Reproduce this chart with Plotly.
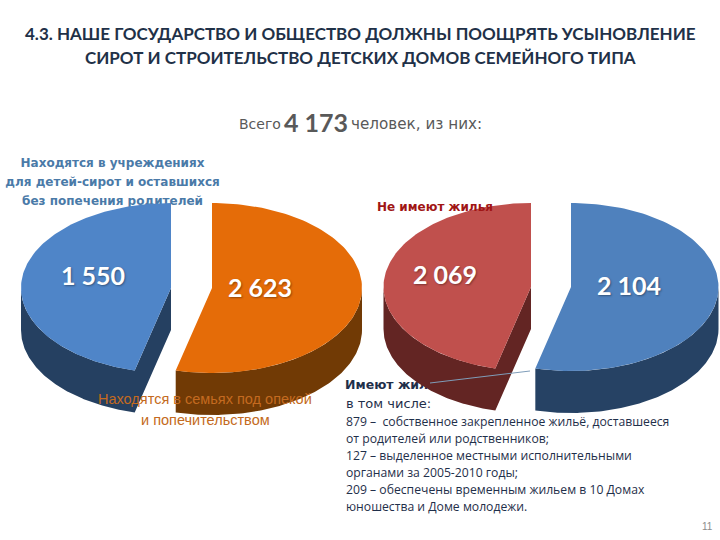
import numpy as np
import plotly.graph_objects as go

# Подписи и значения
title_lines = ["4.3. НАШЕ ГОСУДАРСТВО И ОБЩЕСТВО ДОЛЖНЫ ПООЩРЯТЬ УСЫНОВЛЕНИЕ",
               "СИРОТ И СТРОИТЕЛЬСТВО ДЕТСКИХ ДОМОВ СЕМЕЙНОГО ТИПА"]
total_label = "4 173"

left_values = ["1 550", "2 623"]
right_values = ["2 069", "2 104"]
# Видимые углы секторов на картинке (из-за перспективы не равны долям)
left_sweeps = [166, 194]
right_sweeps = [166, 194]

left_top = ["#4F85C8", "#E56C08"]
left_side = ["#254061", "#713A05"]
right_top = ["#C0504D", "#4F81BD"]
right_side = ["#632523", "#264264"]

institution_lines = ["Находятся в учреждениях", "для детей-сирот и оставшихся", "без попечения родителей"]
family_lines = ["Находятся в семьях под опекой", "и попечительством"]
details = ["879 –  собственное закрепленное жильё, доставшееся",
           "от родителей или родственников;",
           "127 – выделенное местными исполнительными",
           "органами за 2005-2010 годы;",
           "209 – обеспечены временным жильем в 10 Домах",
           "юношества и Доме молодежи."]

BODY = "DejaVu Sans"
HEAD = "Lato, 'Noto Sans', sans-serif"

fig = go.Figure()


def add_poly(xs, ys, color):
    fig.add_trace(go.Scatter(x=xs, y=ys, mode="lines", fill="toself", fillcolor=color,
                             line=dict(width=0), hoverinfo="skip", showlegend=False))


def add_back_text(x, y, text, color, size, family=BODY, pos="middle center"):
    fig.add_trace(go.Scatter(x=[x], y=[y], mode="text", text=[text], textposition=pos,
                             textfont=dict(color=color, size=size, family=family),
                             hoverinfo="skip", showlegend=False))


def draw_pie(cx, cy, rx, ry, depth, explode, sweeps, tops, sides):
    # первый сектор слева, второй справа; угол считаем по часовой от верха
    cut = sweeps[1]
    slices = [(cut, 360, cx - explode, tops[0], sides[0]),
              (0, cut, cx + explode, tops[1], sides[1])]
    for a, b, px, top, side in slices:
        phi = np.radians(np.linspace(a, b, 121))
        ax = px + rx * np.sin(phi)
        ay = cy - ry * np.cos(phi)
        low = max(a, 90)
        high = min(b, 270)
        wall = np.radians(np.linspace(low, high, 121))
        wx = px + rx * np.sin(wall)
        wy = cy - ry * np.cos(wall)
        # боковая стенка одним контуром, у левого сектора вместе с разрезом
        sx = np.r_[wx, wx[::-1]]
        sy = np.r_[wy, wy[::-1] + depth]
        if a > 0:
            sx = np.r_[sx, px, px]
            sy = np.r_[sy, cy + depth, cy]
        add_poly(sx, sy, side)
        add_poly(np.r_[px, ax, px], np.r_[cy, ay, cy], top)


# Текст, который на картинке лежит под секторами
for i, line in enumerate(institution_lines):
    add_back_text(112.5, 164 + i * 19, "<b>" + line + "</b>", "#4A7AA8", 12)
add_back_text(345, 386, "<b>Имеют жилье</b>", "#1F2F4A", 12.5, BODY, "middle right")

draw_pie(191.5, 288, 150, 85, 42, 20.5, left_sweeps, left_top, left_side)
draw_pie(551, 287, 147.5, 84, 42, 20, right_sweeps, right_top, right_side)

# Выноска к "Имеют жилье"
fig.add_trace(go.Scatter(x=[430, 530], y=[383, 371], mode="lines",
                         line=dict(color="#7F9DB9", width=1),
                         hoverinfo="skip", showlegend=False))

annotations = []


def note(x, y, text, size, color, family=BODY, anchor="center", shadow=None):
    font = dict(size=size, color=color, family=family)
    if shadow:
        font["shadow"] = shadow
    annotations.append(dict(x=x, y=y, xref="x", yref="y", text=text, showarrow=False,
                            xanchor=anchor, yanchor="middle", align=anchor, font=font))


note(360.5, 33, "<b>" + title_lines[0] + "</b>", 17, "#1F3148", HEAD)
note(360.5, 57, "<b>" + title_lines[1] + "</b>", 17, "#1F3148", HEAD)
note(237, 124, "Всего", 14, "#595959", BODY, "left")
note(316, 122, "<b>" + total_label + "</b>", 25, "#595959", HEAD)
note(349, 124, "человек, из них:", 15.2, "#595959", BODY, "left")

label_shadow = "1px 1px 2px rgba(0,0,0,0.35)"
note(93, 275, "<b>" + left_values[0] + "</b>", 25, "#FFFFFF", HEAD, shadow=label_shadow)
note(260, 287, "<b>" + left_values[1] + "</b>", 25, "#FFFFFF", HEAD, shadow=label_shadow)
note(445, 274, "<b>" + right_values[0] + "</b>", 25, "#FFFFFF", HEAD, shadow=label_shadow)
note(629, 285, "<b>" + right_values[1] + "</b>", 25, "#FFFFFF", HEAD, shadow=label_shadow)

note(435, 207, "<b>Не имеют жилья</b>", 12, "#A01515")
note(205, 399, family_lines[0], 14.5, "#C46A20", "Liberation Sans")
note(205, 420, family_lines[1], 14.5, "#C46A20", "Liberation Sans")

note(344, 403, "в том числе:", 13, "#1F2F4A", BODY, "left")
for i, line in enumerate(details):
    note(344, 421 + i * 17, line, 12.2, "#1F2F4A", "Open Sans", "left")

note(707, 526, "11", 10, "#8C8C8C", "Liberation Sans")

fig.update_layout(width=720, height=540, margin=dict(l=0, r=0, t=0, b=0),
                  paper_bgcolor="#FFFFFF", plot_bgcolor="#FFFFFF",
                  xaxis=dict(range=[0, 720], visible=False),
                  yaxis=dict(range=[540, 0], visible=False),
                  annotations=annotations)

# убираем отступ body, иначе всё сдвигается на 8px
fig.write_html("out.html", config={"displayModeBar": False},
               post_script="document.body.style.margin='0';document.body.style.overflow='hidden';")
